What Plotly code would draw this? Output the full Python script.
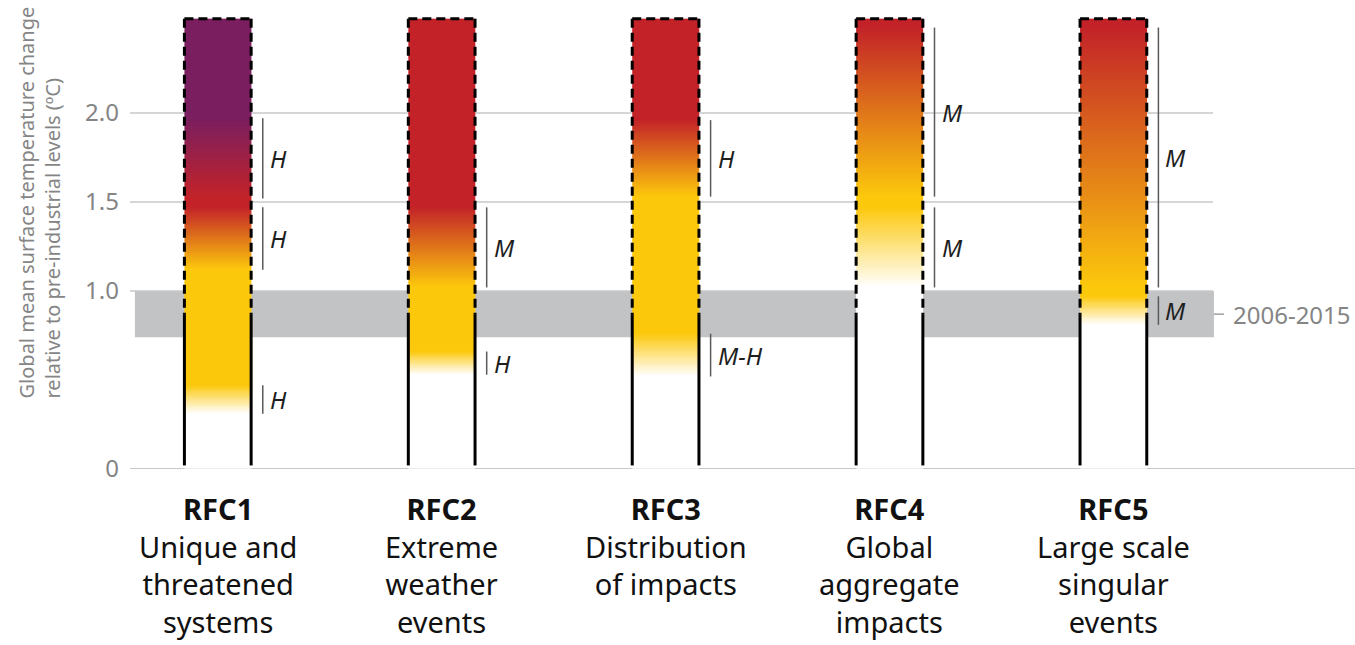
import numpy as np
import plotly.graph_objects as go

# Reasons for concern and their labels
rfc_codes = ["RFC1", "RFC2", "RFC3", "RFC4", "RFC5"]
rfc_names = [
    "Unique and<br>threatened<br>systems",
    "Extreme<br>weather<br>events",
    "Distribution<br>of impacts",
    "Global<br>aggregate<br>impacts",
    "Large scale<br>singular<br>events",
]

# Temperature ranges (°C) of each risk transition:
# white->yellow, yellow->red, red->purple
rfc1_transitions = [(0.31, 0.47), (1.12, 1.47), (1.52, 1.97)]
rfc2_transitions = [(0.53, 0.66), (1.02, 1.47)]
rfc3_transitions = [(0.52, 0.76), (1.53, 1.96)]
rfc4_transitions = [(1.02, 1.47), (1.53, 2.48)]
rfc5_transitions = [(0.81, 0.97), (1.02, 2.48)]

# Confidence level of each transition
rfc1_confidence = ["H", "H", "H"]
rfc2_confidence = ["H", "M"]
rfc3_confidence = ["M-H", "H"]
rfc4_confidence = ["M", "M"]
rfc5_confidence = ["M", "M"]

ember_top = 2.53          # top of each ember (°C)
observed_warming = 0.87   # 2006-2015 mean
band_range = (0.74, 1.0)  # grey band for 2006-2015
tick_vals = [0, 1.0, 1.5, 2.0]
tick_text = ["0", "1.0", "1.5", "2.0"]

transitions = [rfc1_transitions, rfc2_transitions, rfc3_transitions,
               rfc4_transitions, rfc5_transitions]
confidences = [rfc1_confidence, rfc2_confidence, rfc3_confidence,
               rfc4_confidence, rfc5_confidence]

risk_colors = ["#FFFFFF", "#FCC80C", "#C32328", "#7A1E5F"]
colorscale = [[k / 3, c] for k, c in enumerate(risk_colors)]

x_range = [-0.392, 5.079]
half_w = 0.149
conf_dx = 0.201
grid_end = 4.445
grey_text = "#858585"
font_family = "Noto Sans"

fig = go.Figure()

# grey band, horizontal gridlines and baseline behind the embers
fig.add_shape(type="rect", xref="x", yref="y", x0=-0.37, x1=4.449,
              y0=band_range[0], y1=band_range[1],
              fillcolor="#C2C3C5", line_width=0, layer="below")
for v in tick_vals[1:]:
    fig.add_shape(type="line", xref="x", yref="y", x0=x_range[0], x1=grid_end,
                  y0=v, y1=v, line=dict(color="#C8C8C8", width=1.5),
                  layer="below")
fig.add_shape(type="line", xref="paper", yref="y", x0=0, x1=1, y0=0, y1=0,
              line=dict(color="#C8C8C8", width=2), layer="below")

# embers: risk level along the temperature axis, drawn as a one-column heatmap
y_edges = np.linspace(0, ember_top, 507)
y_mid = 0.5 * (y_edges[:-1] + y_edges[1:])
for i, trans in enumerate(transitions):
    level = np.zeros_like(y_mid)
    for lo, hi in trans:
        level += np.clip((y_mid - lo) / (hi - lo), 0, 1)
    fig.add_trace(go.Heatmap(
        x=[i - half_w, i + half_w], y=y_edges, z=level.reshape(-1, 1),
        zmin=0, zmax=3, colorscale=colorscale, showscale=False,
        hoverinfo="skip"))

    # outline: dashed above the observed warming, solid below
    dash = dict(color="black", width=3, dash="9px,5px")
    solid = dict(color="black", width=3)
    fig.add_shape(type="line", x0=i - half_w, x1=i + half_w,
                  y0=ember_top, y1=ember_top, line=dash)
    for xe in (i - half_w, i + half_w):
        fig.add_shape(type="line", x0=xe, x1=xe, y0=ember_top,
                      y1=observed_warming, line=dash)
        fig.add_shape(type="line", x0=xe, x1=xe, y0=observed_warming,
                      y1=0.02, line=solid)

    # confidence brackets beside each transition
    for (lo, hi), conf in zip(trans, confidences[i]):
        fig.add_shape(type="line", x0=i + conf_dx, x1=i + conf_dx,
                      y0=lo, y1=hi, line=dict(color="#5A5A5A", width=1.5))
        fig.add_annotation(x=i + conf_dx, y=(lo + hi) / 2, xanchor="left",
                           yanchor="middle", xshift=5, showarrow=False,
                           text=f"<i>{conf}</i>",
                           font=dict(size=24, color="#1E1E1E",
                                     family=font_family))

    # category label under each ember
    fig.add_annotation(x=i, xref="x", y=0, yref="paper", yanchor="top",
                       yshift=-18, showarrow=False, align="center",
                       text=f"<b>{rfc_codes[i]}</b><br>{rfc_names[i]}",
                       font=dict(size=29, color="#111111", family=font_family))

# 2006-2015 marker
fig.add_shape(type="line", x0=4.449, x1=4.494, y0=observed_warming,
              y1=observed_warming, line=dict(color="#A0A0A0", width=1.5))
fig.add_annotation(x=4.525, y=observed_warming, xanchor="left",
                   yanchor="middle", showarrow=False, text="2006-2015",
                   font=dict(size=24, color=grey_text, family=font_family))

# axis title
fig.add_annotation(xref="paper", x=-0.0735, y=1.497, yref="y",
                   xanchor="center", yanchor="middle", showarrow=False,
                   textangle=-90, align="left",
                   text="Global mean surface temperature change<br>"
                        "relative to pre-industrial levels (ºC)",
                   font=dict(size=20, color=grey_text, family=font_family))

fig.update_layout(
    width=1355, height=645,
    margin=dict(l=130, r=0, t=0, b=176),
    paper_bgcolor="white", plot_bgcolor="white",
    showlegend=False,
    xaxis=dict(range=x_range, visible=False, fixedrange=True),
    yaxis=dict(range=[0, 469 / 178], tickvals=tick_vals, ticktext=tick_text,
               showgrid=False, zeroline=False, showline=False, ticks="",
               ticklabelstandoff=10,
               tickfont=dict(size=24, color=grey_text, family=font_family)),
)

fig.write_html("out.html")
